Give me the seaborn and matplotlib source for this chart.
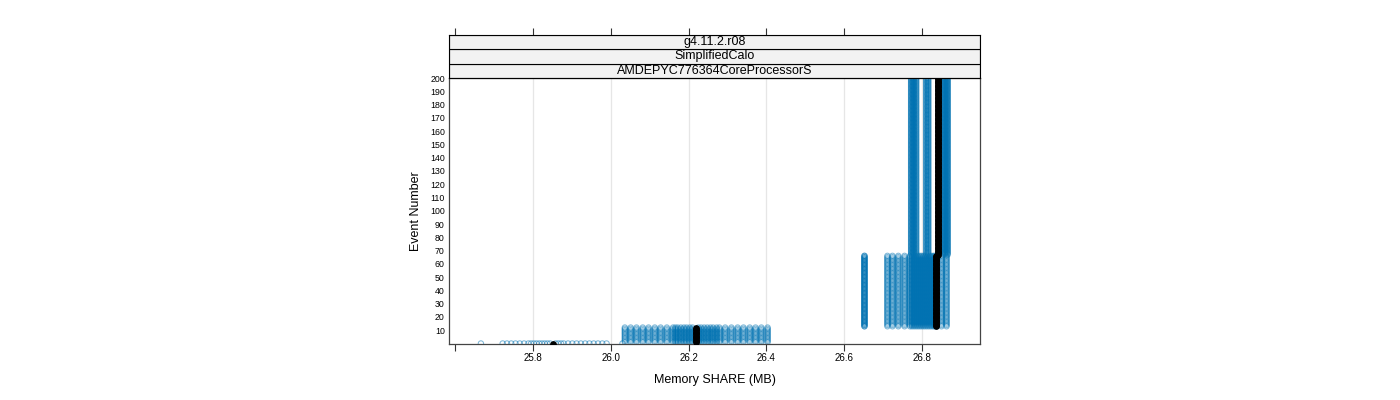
import numpy as np
import pandas as pd
import matplotlib
matplotlib.use("Agg")
import matplotlib.pyplot as plt
from matplotlib.patches import Rectangle
import seaborn as sns

# ---------------- data ----------------
strip_labels = ["g4.11.2.r08", "SimplifiedCalo", "AMDEPYC776364CoreProcessorS"]
x_ticks = [25.6, 25.8, 26.0, 26.2, 26.4, 26.6, 26.8]
x_tick_labels = ["", "25.8", "26.0", "26.2", "26.4", "26.6", "26.8"]
y_ticks = list(range(10, 201, 10))

# event ranges (first, last) of each memory plateau
seg_events = [(0, 0), (1, 12), (13, 66), (67, 200)]

# Memory SHARE (MB) per run, for each plateau
seg0_x = [25.666, 25.722, 25.733, 25.744, 25.755, 25.766, 25.777,
          25.788, 25.795, 25.802, 25.809, 25.816, 25.823, 25.830, 25.837,
          25.844, 25.858, 25.865, 25.872, 25.879, 25.890, 25.901, 25.912,
          25.923, 25.934, 25.945, 25.956, 25.967, 25.978, 25.989, 26.030]
seg1_x = [26.036, 26.051, 26.066, 26.082, 26.097, 26.113, 26.128, 26.144,
          26.160, 26.166, 26.172, 26.180, 26.188, 26.195, 26.203, 26.210,
          26.225, 26.232, 26.240, 26.248, 26.256, 26.263, 26.272,
          26.279, 26.294, 26.310, 26.326, 26.341, 26.357, 26.372, 26.387, 26.403]
seg2_x = [26.652, 26.652, 26.711, 26.724, 26.739, 26.755,
          26.769, 26.774, 26.779, 26.784, 26.789, 26.794, 26.799, 26.804,
          26.809, 26.814, 26.819, 26.824, 26.829, 26.833, 26.838,
          26.850, 26.863]
seg3_x = [26.772, 26.776, 26.780, 26.785, 26.811, 26.816,
          26.855, 26.859, 26.863, 26.866]
seg_x = [seg0_x, seg1_x, seg2_x, seg3_x]

# reference run (black)
ref_x = [25.851, 26.218, 26.835, 26.842]

# ---------------- build tables ----------------
rows = []
for (lo, hi), xs in zip(seg_events, seg_x):
    for x in xs:
        for ev in range(lo, hi + 1):
            rows.append((x, ev))
runs = pd.DataFrame(rows, columns=["share", "event"])

rrows = []
for (lo, hi), x in zip(seg_events, ref_x):
    for ev in range(lo, hi + 1):
        rrows.append((x, ev))
ref = pd.DataFrame(rrows, columns=["share", "event"])

# ---------------- plot ----------------
sns.set_theme(style="white")
plt.rcParams["font.family"] = ["Liberation Sans", "DejaVu Sans"]
plt.rcParams.update({"text.color": "black", "axes.labelcolor": "black",
                     "xtick.color": "black", "ytick.color": "black"})

W, H = 1400, 400
fig = plt.figure(figsize=(14, 4), dpi=100)
left, right, top, bottom = 449, 980, 78, 343.5
ax = fig.add_axes([left / W, 1 - bottom / H, (right - left) / W, (bottom - top) / H])

xlim = (25.584, 26.949)
for t in x_ticks[1:]:
    ax.axvline(t, color="#e6e6e6", lw=0.9, zorder=0)

blue = "#0072B2"
sns.scatterplot(data=runs, x="share", y="event", ax=ax, marker="o", s=15,
                color=blue, facecolor="none", edgecolor=blue, linewidth=0.75,
                alpha=0.5, legend=False, zorder=2)
sns.scatterplot(data=ref, x="share", y="event", ax=ax, marker="o", s=16,
                color="black", edgecolor="black", linewidth=0.8,
                legend=False, zorder=3)

ax.set_xlim(*xlim)
ax.set_ylim(0, 200)
ax.set_xticks(x_ticks)
ax.set_xticklabels(x_tick_labels)
ax.set_yticks(y_ticks)
ax.set_yticklabels([str(v) for v in y_ticks])
ax.tick_params(axis="x", length=5, width=0.8, color="#333333", direction="out",
               labelsize=7, pad=2, bottom=True)
ax.tick_params(axis="y", length=0, labelsize=6.3, pad=3)
ax.set_xlabel("Memory SHARE (MB)", fontsize=9, labelpad=8)
ax.set_ylabel("Event Number", fontsize=9, labelpad=6)
for sp in ax.spines.values():
    sp.set_color("#444444")
    sp.set_linewidth(0.9)

# strips
stop = 35
sax = fig.add_axes([left / W, 1 - top / H, (right - left) / W, (top - stop) / H])
sax.set_xlim(*xlim)
sax.set_ylim(0, 3)
for i, lab in enumerate(reversed(strip_labels)):
    sax.add_patch(Rectangle((xlim[0], i), xlim[1] - xlim[0], 1,
                            facecolor="#f2f2f2", edgecolor="black", lw=0.8))
    sax.text(sum(xlim) / 2, i + 0.5, lab, ha="center", va="center", fontsize=9)
sax.xaxis.tick_top()
sax.set_xticks(x_ticks)
sax.set_xticklabels([])
sax.tick_params(axis="x", top=True, bottom=False, length=5, width=0.8,
                color="#333333", direction="out")
sax.set_yticks([])
for sp in sax.spines.values():
    sp.set_color("black")
    sp.set_linewidth(0.8)

fig.savefig("out.png", dpi=100)
